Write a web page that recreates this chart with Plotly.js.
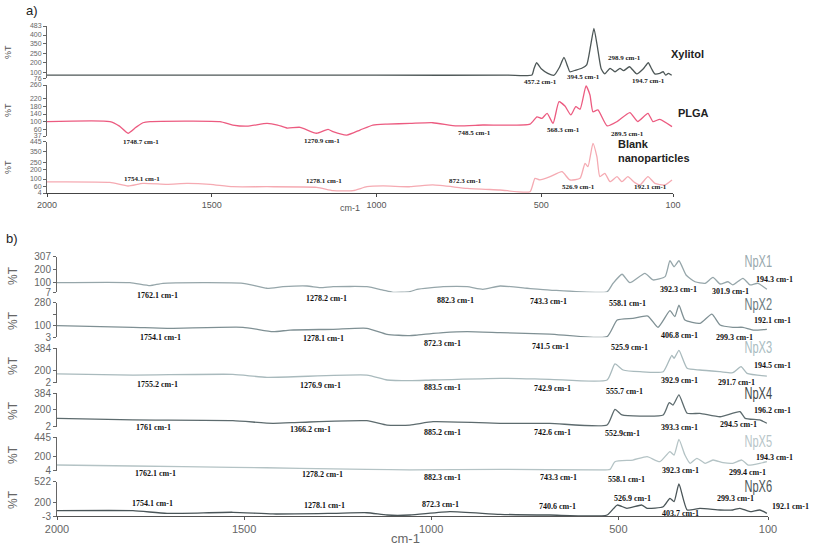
<!DOCTYPE html>
<html>
<head>
<meta charset="utf-8">
<script src="https://cdn.plot.ly/plotly-3.0.1.min.js"></script>
<style>body{margin:0;background:#fff}#chart{width:813px;height:545px}</style>
</head>
<body>
<div id="chart"></div>
<script>
// ---- panel a) spectra ----
var xylWn = [2000,1500,1000,600,528,522,514,500,480,461,445,431,420,413,395,377,362,350,340,330,318,307,291,276,261,250,232,210,190,175,165,155,140,130,122,114,104];
var xylT  = [100,100,100,100,102,150,197,150,115,100,160,239,170,127,140,154,180,330,465,330,150,110,154,127,154,135,166,110,150,197,150,110,115,127,100,115,100];

var plgaWn = [2000,1809,1780,1754,1730,1709,1687,1475,1436,1393,1332,1300,1272,1232,1182,1147,1132,1090,1050,1011,968,898,829,756,677,534,513,498,482,464,446,428,410,395,382,364,352,343,328,300,270,231,207,176,161,140,103];
var plgaT  = [100,100,80,49,75,95,100,100,85,80,92,85,72,75,49,66,56,41,63,85,89,92,95,81,85,89,121,114,136,92,187,168,129,165,154,256,216,143,151,81,100,139,100,136,100,110,78];

var blankWn = [2000,1809,1754,1709,1636,1575,1505,1436,1332,1181,1132,1071,1029,980,898,829,725,625,534,519,504,473,437,413,382,367,358,343,331,322,307,291,270,255,237,216,200,176,155,125,103];
var blankT  = [100,95,64,87,79,87,79,58,58,53,24,24,58,65,58,73,44,30,15,130,116,144,187,116,130,259,230,431,316,144,173,101,144,101,144,93,73,144,87,73,116];

// ---- panel b) spectra ----
var np1Wn = [2000,1805,1751,1717,1503,1439,1396,1332,1297,1262,1172,1129,1102,1057,1038,968,904,862,816,744,683,530,514,490,469,429,407,375,362,351,338,319,295,268,247,228,207,194,167,148,127,103];
var np1T  = [88,88,63,83,83,41,54,60,46,54,54,26,7,12,32,54,54,32,60,41,26,12,83,159,88,167,111,139,273,223,273,153,96,83,133,77,96,69,125,69,83,32];

var np2Wn = [2000,1797,1706,1503,1423,1377,1262,1172,1118,1057,1038,968,904,816,683,530,503,461,421,394,362,349,338,322,282,250,228,194,167,140,103];
var np2T  = [96,83,75,83,48,61,67,75,27,16,21,40,48,40,29,8,141,155,173,83,216,168,261,141,115,189,101,83,83,61,67];

var np3Wn = [2000,1797,1530,1439,1172,1118,1057,995,816,683,530,509,487,442,380,357,351,338,316,282,228,194,172,156,103];
var np3T  = [99,87,95,62,87,32,24,32,51,40,32,210,143,124,124,306,273,361,162,143,124,113,180,106,76];

var np4Wn = [2000,1797,1530,1423,1351,1172,1118,1057,995,816,683,530,509,490,442,380,364,354,338,316,282,228,175,161,122,103];
var np4T  = [98,79,71,41,52,71,21,21,59,41,41,21,201,136,124,136,277,250,365,155,155,116,174,98,79,41];

var np5Wn = [2000,1797,1530,1351,1172,1057,816,549,522,509,461,423,389,362,351,338,322,308,290,268,247,220,194,170,153,122,103];
var np5T  = [79,66,49,36,22,13,22,13,22,123,145,189,123,255,211,418,211,102,168,102,145,110,102,145,79,102,123];

var np6Wn = [2000,1797,1706,1530,1423,1262,1172,1118,1057,950,816,683,530,503,477,437,423,380,362,351,338,316,282,228,194,175,148,122,103];
var np6T  = [78,78,38,54,28,38,47,12,12,63,23,12,12,165,115,165,115,139,268,216,487,89,115,89,89,115,63,89,38];

// tick labels (the original figure spaces its %T labels unevenly; tick positions follow the picture)
var aXTicks = [2000,1500,1000,500,100];
var bXTicks = [2000,1500,1000,500,100];
var xylTickText   = ['76','100','200','250','350','400','483'];
var xylTickPos    = [76,120,200,271,348,413,483];
var plgaTickText  = ['37','60','100','140','180','220','260'];
var plgaTickPos   = [37,66,100,133,165,202,260];
var blankTickText = ['4','60','100','200','250','350','445'];
var blankTickPos  = [4,58,124,202,268,359,445];
var npTickText = [['7','100','200','307'],['3','100','','280'],['2','200','384'],['2','200','384'],['4','200','445'],['-3','200','522']];
var npTickPos  = [[7,88,203,307],[3,101,189,280],[2,143,384],[2,201,384],[4,198,445],[-3,200,522]];
var npNames = ['NpX1','NpX2','NpX3','NpX4','NpX5','NpX6'];

var W = 813, H = 545;
function fx(p){ return p / W; }
function fy(p){ return 1 - p / H; }

function trace(x, y, xa, ya, color){
  return {x:x, y:y, xaxis:xa, yaxis:ya, mode:'lines', line:{color:color, width:1.3, shape:'spline', smoothing:0.5}, hoverinfo:'skip'};
}

var npColors = ['#96a6aa','#7f9094','#a9babd','#5d6b6e','#b4c3c5','#4a5558'];
var npLabelColors = ['#98a8ad','#6b7a7e','#a9bcc1','#3f484a','#b7c5c8','#4b5659'];

var data = [
  trace(xylWn, xylT, 'x', 'y', '#4d5757'),
  trace(plgaWn, plgaT, 'x', 'y2', '#ec5b80'),
  trace(blankWn, blankT, 'x', 'y3', '#f5aab2'),
  trace(np1Wn, np1T, 'x2', 'y4', npColors[0]),
  trace(np2Wn, np2T, 'x2', 'y5', npColors[1]),
  trace(np3Wn, np3T, 'x2', 'y6', npColors[2]),
  trace(np4Wn, np4T, 'x2', 'y7', npColors[3]),
  trace(np5Wn, np5T, 'x2', 'y8', npColors[4]),
  trace(np6Wn, np6T, 'x2', 'y9', npColors[5])
];

function yax(top, bottom, lo, hi, vals, text, anchor, fsize){
  return {domain:[fy(bottom), fy(top)], range:[lo, hi], anchor:anchor,
    tickvals:vals, ticktext:text, showgrid:false, zeroline:false, showline:true, linecolor:'#666', linewidth:1,
    ticks:'outside', ticklen:3, tickcolor:'#666', tickfont:{size:fsize, color:'#666'}};
}

var layout = {
  width:W, height:H, margin:{l:0,r:0,t:0,b:0}, showlegend:false,
  paper_bgcolor:'#fff', plot_bgcolor:'rgba(0,0,0,0)',
  font:{family:'Liberation Sans, Arial, sans-serif', color:'#555'},
  xaxis:{domain:[fx(47), fx(673)], range:[2000,100], anchor:'y3', tickvals:aXTicks,
    showgrid:false, zeroline:false, showline:true, linecolor:'#444', ticks:'outside', ticklen:3,
    tickcolor:'#444', tickfont:{size:9, color:'#555'}},
  xaxis2:{domain:[fx(57), fx(768)], range:[2000,100], anchor:'y9', tickvals:bXTicks,
    showgrid:false, zeroline:false, showline:true, linecolor:'#555', ticks:'outside', ticklen:3,
    tickcolor:'#555', tickfont:{size:11, color:'#666'}},
  yaxis:  yax(26, 78.3, 76, 483, xylTickPos, xylTickText, 'x', 7),
  yaxis2: yax(85, 136, 37, 260, plgaTickPos, plgaTickText, 'x', 7),
  yaxis3: yax(141.7, 193, 4, 445, blankTickPos, blankTickText, 'x', 7),
  yaxis4: yax(256.7, 292.3, 7, 307, npTickPos[0], npTickText[0], 'x2', 10),
  yaxis5: yax(302.7, 337.3, 3, 280, npTickPos[1], npTickText[1], 'x2', 10),
  yaxis6: yax(348.3, 382.7, 2, 384, npTickPos[2], npTickText[2], 'x2', 10),
  yaxis7: yax(393.3, 426.7, 2, 384, npTickPos[3], npTickText[3], 'x2', 10),
  yaxis8: yax(437.3, 470.7, 4, 445, npTickPos[4], npTickText[4], 'x2', 10),
  yaxis9: yax(481.7, 516, -3, 522, npTickPos[5], npTickText[5], 'x2', 10),
  annotations:[]
};

function note(text, x, y, font, extra){
  var a = {text:text, x:fx(x), y:fy(y), xref:'paper', yref:'paper', showarrow:false,
    xanchor:'center', yanchor:'middle', font:font};
  for (var k in extra) a[k] = extra[k];
  layout.annotations.push(a);
}

var peakA = {family:'Liberation Serif, Times New Roman, serif', size:7, color:'#222'};
var peakB = {family:'Liberation Serif, Times New Roman, serif', size:8, color:'#111'};
var nameA = {family:'Liberation Sans, Arial, sans-serif', size:11, color:'#222'};
var titleA = {family:'Liberation Sans, Arial, sans-serif', size:9, color:'#555'};
var titleB = {family:'Liberation Sans, Arial, sans-serif', size:12, color:'#666'};

// panel letters
note('a)', 32, 10, {family:'Liberation Sans, Arial', size:13, color:'#222'});
note('b)', 12, 238, {family:'Liberation Sans, Arial', size:13, color:'#222'});

// axis titles
[52, 110, 167].forEach(function(y){ note('%T', 8, y, titleA, {textangle:-90}); });
[275, 320, 365, 410, 454, 499].forEach(function(y){ note('%T', 13, y, titleB, {textangle:-90}); });
note('cm-1', 350, 208, titleA);
note('cm-1', 405, 538, {family:'Liberation Sans, Arial', size:13, color:'#666'});

// panel a sample names
note('<b>Xylitol</b>', 687, 54, nameA);
note('<b>PLGA</b>', 693, 113, nameA);
note('<b>Blank<br>nanoparticles</b>', 616, 151, nameA, {xanchor:'left', align:'left'});

// panel a peak labels
[['457.2 cm-1',540,82],['394.5 cm-1',583,77],['298.9 cm-1',624,58],['194.7 cm-1',648,81],
 ['1748.7 cm-1',141,142],['1270.9 cm-1',322,141],['748.5 cm-1',474,133],['568.3 cm-1',563,130],['289.5 cm-1',627,134],
 ['1754.1 cm-1',142,179],['1278.1 cm-1',324,181],['872.3 cm-1',465,181],['526.9 cm-1',578,187],['192.1 cm-1',650,187]
].forEach(function(p){ note('<b>'+p[0]+'</b>', p[1], p[2], peakA); });

// panel b peak labels
[['1762.1 cm-1',157,295],['1278.2 cm-1',326,298],['882.3 cm-1',455,300],['743.3 cm-1',548,301],['558.1 cm-1',627,303],['392.3 cm-1',678,289],['301.9 cm-1',730,291],['194.3 cm-1',774,279],
 ['1754.1 cm-1',160,337],['1278.1 cm-1',323,338],['872.3 cm-1',443,343],['741.5 cm-1',550,346],['525.9 cm-1',629,347],['406.8 cm-1',679,335],['299.3 cm-1',734,337],['192.1 cm-1',772,320],
 ['1755.2 cm-1',157,384],['1276.9 cm-1',320,385],['883.5 cm-1',443,387],['742.9 cm-1',552,388],['555.7 cm-1',624,391],['392.9 cm-1',679,380],['291.7 cm-1',736,382],['194.5 cm-1',772,365],
 ['1761 cm-1',153,427],['1366.2 cm-1',310,429],['885.2 cm-1',443,432],['742.6 cm-1',552,432],['552.9cm-1',622,433],['393.3 cm-1',679,427],['294.5 cm-1',738,424],['196.2 cm-1',772,410],
 ['1762.1 cm-1',155,473],['1278.2 cm-1',322,474],['882.3 cm-1',443,477],['743.3 cm-1',558,477],['558.1 cm-1',626,479],['392.3 cm-1',680,470],['299.4 cm-1',747,472],['194.3 cm-1',774,457],
 ['1754.1 cm-1',152,503],['1278.1 cm-1',324,505],['872.3 cm-1',440,504],['740.6 cm-1',557,506],['526.9 cm-1',632,498],['403.7 cm-1',680,513],['299.3 cm-1',735,498],['192.1 cm-1',790,506]
].forEach(function(p){ note('<b>'+p[0]+'</b>', p[1], p[2], peakB); });

// sample names, panel b (condensed lettering in the original)
[261, 304, 347, 393, 441, 486].forEach(function(y, i){
  note(npNames[i], 758, y, {family:'Liberation Sans, Arial, sans-serif', size:17, color:npLabelColors[i]});
});

Plotly.newPlot('chart', data, layout, {staticPlot:true}).then(function(){
  // no condensed font is installed, so squeeze the NpX names horizontally
  document.querySelectorAll('.annotation-text').forEach(function(t){
    if (t.textContent.indexOf('NpX') !== 0) return;
    var x = parseFloat(t.getAttribute('x')) || 0;
    t.setAttribute('transform', 'translate(' + x + ',0) scale(0.65,1) translate(' + (-x) + ',0)');
  });
});
</script>
</body>
</html>
